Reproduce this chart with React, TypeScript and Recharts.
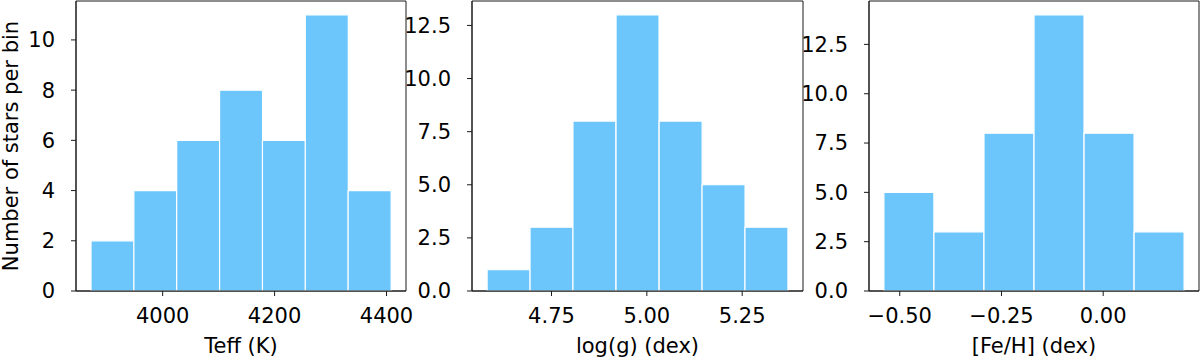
import { BarChart, Bar, XAxis, YAxis, Label, ReferenceArea } from "recharts";

// bin edges and counts
const teffEdges = [3872, 3948.6, 4025.1, 4101.7, 4178.3, 4254.9, 4331.4, 4408];
const teffCounts = [2, 4, 6, 8, 6, 11, 4];
const teffTicks = [4000, 4200, 4400];

const loggEdges = [4.581, 4.694, 4.806, 4.919, 5.032, 5.145, 5.257, 5.37];
const loggCounts = [1, 3, 8, 13, 8, 5, 3];
const loggTicks = [4.75, 5.0, 5.25];

const fehEdges = [-0.539, -0.416, -0.293, -0.17, -0.047, 0.076, 0.199];
const fehCounts = [5, 3, 8, 14, 8, 3];
const fehTicks = [-0.5, -0.25, 0.0];

const countTicksA = [0, 2, 4, 6, 8, 10];
const countTicksB = [0, 2.5, 5, 7.5, 10, 12.5];

const FONT = "DejaVu Sans";
const BAR_FILL = "#6cc6fc";
const INK = "#1a1a1a";

function toRows(edges: number[], counts: number[]) {
  return counts.map((count, i) => ({
    center: (edges[i] + edges[i + 1]) / 2,
    count,
  }));
}

const minus = (s: string) => s.replace("-", "\u2212");

interface PanelProps {
  left: number;
  width: number;
  yAxisWidth: number;
  rightMargin: number;
  edges: number[];
  counts: number[];
  xDomain: [number, number];
  xTicks: number[];
  xFormat: (v: number) => string;
  yDomain: [number, number];
  yTicks: number[];
  yFormat: (v: number) => string;
  xLabel: string;
  yLabel?: string;
}

function Panel(p: PanelProps) {
  const data = toRows(p.edges, p.counts);
  const tickStyle = { fill: "#000", fontSize: 21, fontFamily: FONT };
  return (
    <div style={{ position: "absolute", top: 0, left: p.left }}>
      <BarChart
        width={p.width}
        height={360}
        data={data}
        margin={{ top: 1, right: p.rightMargin, left: 0, bottom: 0 }}
        barCategoryGap={0}
        barGap={0}
      >
        <XAxis
          dataKey="center"
          type="number"
          domain={p.xDomain}
          ticks={p.xTicks}
          tickFormatter={p.xFormat}
          allowDataOverflow
          height={69}
          stroke={INK}
          tickSize={5}
          tickMargin={12}
          tick={tickStyle}
        >
          <Label
            value={p.xLabel}
            position="insideBottom"
            offset={7}
            style={{ fill: "#000", fontSize: 21, fontFamily: FONT }}
          />
        </XAxis>
        <YAxis
          type="number"
          domain={p.yDomain}
          ticks={p.yTicks}
          tickFormatter={p.yFormat}
          allowDataOverflow
          width={p.yAxisWidth}
          stroke={INK}
          tickSize={5}
          tickMargin={16}
          tick={tickStyle}
        >
          {p.yLabel && (
            <Label
              value={p.yLabel}
              angle={-90}
              position="insideLeft"
              offset={11}
              style={{
                fill: "#000",
                fontSize: 21,
                fontFamily: FONT,
                textAnchor: "middle",
              }}
            />
          )}
        </YAxis>
        <Bar
          dataKey="count"
          fill={BAR_FILL}
          stroke="#ffffff"
          strokeWidth={1.2}
          isAnimationActive={false}
        />
        {/* axes frame */}
        <ReferenceArea
          x1={p.xDomain[0]}
          x2={p.xDomain[1]}
          y1={p.yDomain[0]}
          y2={p.yDomain[1]}
          fill="none"
          stroke={INK}
          strokeWidth={1}
          ifOverflow="visible"
        />
      </BarChart>
    </div>
  );
}

export default function App() {
  return (
    <div
      style={{
        position: "absolute",
        top: 0,
        left: 0,
        width: 1200,
        height: 360,
        background: "#fff",
      }}
    >
      <Panel
        left={0}
        width={420}
        yAxisWidth={76}
        rightMargin={14}
        edges={teffEdges}
        counts={teffCounts}
        xDomain={[3845.2, 4434.8]}
        xTicks={teffTicks}
        xFormat={(v) => String(v)}
        yDomain={[0, 11.55]}
        yTicks={countTicksA}
        yFormat={(v) => String(v)}
        xLabel="Teff (K)"
        yLabel="Number of stars per bin"
      />
      <Panel
        left={390}
        width={417}
        yAxisWidth={82}
        rightMargin={4}
        edges={loggEdges}
        counts={loggCounts}
        xDomain={[4.5416, 5.4094]}
        xTicks={loggTicks}
        xFormat={(v) => v.toFixed(2)}
        yDomain={[0, 13.65]}
        yTicks={countTicksB}
        yFormat={(v) => v.toFixed(1)}
        xLabel="log(g) (dex)"
      />
      <Panel
        left={790}
        width={410}
        yAxisWidth={79}
        rightMargin={1}
        edges={fehEdges}
        counts={fehCounts}
        xDomain={[-0.5756, 0.2355]}
        xTicks={fehTicks}
        xFormat={(v) => minus(v.toFixed(2))}
        yDomain={[0, 14.7]}
        yTicks={countTicksB}
        yFormat={(v) => v.toFixed(1)}
        xLabel="[Fe/H] (dex)"
      />
    </div>
  );
}
